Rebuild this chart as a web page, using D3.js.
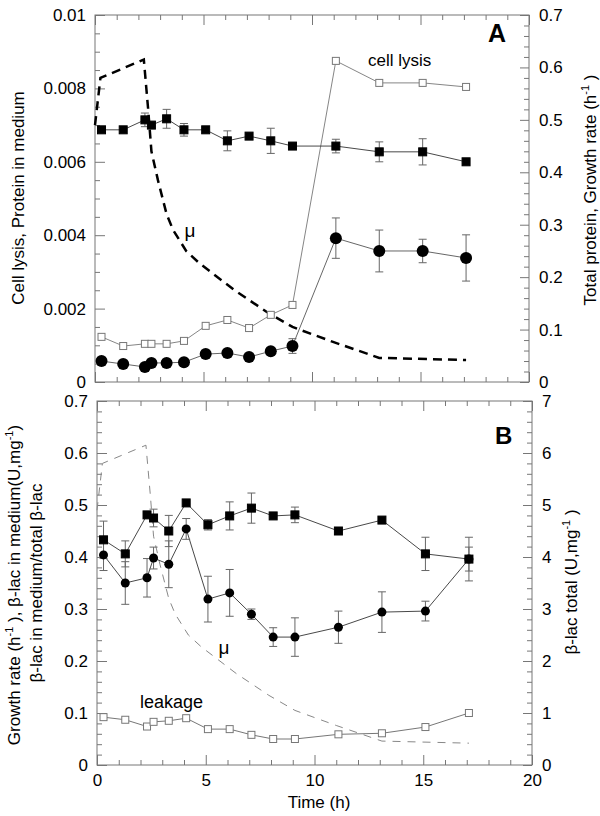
<!DOCTYPE html>
<html><head><meta charset="utf-8">
<script src="https://cdn.jsdelivr.net/npm/d3@7"></script>
<style>
body{margin:0;background:#fff}
text{font-family:"Liberation Sans",Arial,Helvetica,sans-serif;fill:#000}
</style>
</head><body>
<svg id="c" width="600" height="816"></svg>
<script>
// ---------- DATA ----------
const time = [0.3,1.3,2.3,2.6,3.3,4.1,5.1,6.1,7.1,8.1,9.1,11.1,13.1,15.1,17.1];

// Panel A
const totalProtein    = [0.481,0.481,0.500,0.490,0.502,0.481,0.481,0.460,0.469,0.460,0.450,0.450,0.439,0.439,0.420];
const totalProteinErr = [0,0,0.013,0,0.018,0.012,0,0.019,0,0.024,0,0.013,0.019,0.025,0];
const cellLysis       = [0.00123,0.00098,0.00104,0.00104,0.00104,0.00112,0.00153,0.00169,0.00147,0.00183,0.0021,0.00875,0.00815,0.00815,0.00804];
const proteinMedium   = [0.00057,0.00049,0.00041,0.00052,0.00052,0.00054,0.00076,0.00079,0.00068,0.00084,0.00098,0.00392,0.00357,0.00357,0.00338];
const proteinMediumErr= [0,0,0,0,0,0,0,0,0,0,0.0002,0.00055,0.00057,0.00032,0.00063];

// growth rate mu (both panels)
const muTime = [0,0.25,2.25,2.45,2.6,2.9,3.3,3.6,4.2,4.8,6.4,7.9,9.1,11.0,13.1,17.1];
const muVal  = [0.49,0.58,0.615,0.52,0.44,0.385,0.32,0.29,0.25,0.227,0.176,0.134,0.105,0.076,0.046,0.042];

// Panel B
const betaTotal     = [4.33,4.06,4.81,4.75,4.5,5.04,4.62,4.79,4.94,4.79,4.81,4.5,4.71,4.06,3.96];
const betaTotalErr  = [0.36,0.25,0,0.17,0.3,0,0.1,0.27,0.29,0,0.15,0,0,0.32,0.42];
const betaMedium    = [0.404,0.35,0.36,0.398,0.386,0.454,0.319,0.331,0.29,0.246,0.246,0.265,0.294,0.296,0.396];
const betaMediumErr = [0.03,0.041,0.037,0.021,0.045,0.02,0.044,0.045,0.01,0.018,0.037,0.031,0.039,0.019,0.023];
const leakage       = [0.092,0.087,0.074,0.083,0.085,0.09,0.069,0.069,0.058,0.05,0.05,0.059,0.061,0.073,0.1];

const xMajor = [0,5,10,15,20];
const xMinor = d3.range(0,21,1);
const yALTicks = [0,0.002,0.004,0.006,0.008,0.01];
const yARTicks = [0,0.1,0.2,0.3,0.4,0.5,0.6,0.7];
const yBLTicks = [0,0.1,0.2,0.3,0.4,0.5,0.6,0.7];
const yBRTicks = [0,1,2,3,4,5,6,7];

// ---------- DRAW ----------
const svg = d3.select("#c");
const FS = 17;
const axisCol = "#777";

const xA  = d3.scaleLinear().domain([0,20]).range([95,529]);
const yAL = d3.scaleLinear().domain([0,0.01]).range([382,15]);
const yAR = d3.scaleLinear().domain([0,0.7]).range([382,15]);
const xB  = d3.scaleLinear().domain([0,20]).range([97,532]);
const yBL = d3.scaleLinear().domain([0,0.7]).range([765,401]);
const yBR = d3.scaleLinear().domain([0,7]).range([765,401]);

const fmtNum = d => d === 0 ? "0" : String(+d.toFixed(4));

function styleAxis(g){
  g.select(".domain").remove();
  g.selectAll(".tick line").attr("stroke", axisCol).attr("stroke-width", 1);
  g.selectAll(".tick text").attr("font-size", FS).attr("font-family", '"Liberation Sans",Arial,sans-serif').attr("fill","#000");
}

function panelAxes(x, yL, yR, lTicks, rTicks, lMinorStep, rMinorStep, showX){
  const [x0,x1] = x.range(), [y0,y1] = yL.range();
  // minor ticks
  const minorX = xMinor.filter(v => !xMajor.includes(v));
  svg.append("g").attr("transform",`translate(0,${y0})`)
    .call(d3.axisBottom(x).tickValues(minorX).tickSize(-5).tickFormat("")).call(styleAxis);
  svg.append("g").attr("transform",`translate(0,${y1})`)
    .call(d3.axisTop(x).tickValues(minorX).tickSize(-5).tickFormat("")).call(styleAxis);
  svg.append("g").attr("transform",`translate(0,${y0})`)
    .call(d3.axisBottom(x).tickValues(xMajor).tickSize(-10).tickPadding(9)
      .tickFormat(showX ? d3.format("d") : "")).call(styleAxis);
  svg.append("g").attr("transform",`translate(0,${y1})`)
    .call(d3.axisTop(x).tickValues(xMajor).tickSize(-10).tickFormat("")).call(styleAxis);

  const lMax = yL.domain()[1], rMax = yR.domain()[1];
  const lMin = d3.range(0, lMax + lMinorStep/2, lMinorStep).map(v=>+v.toFixed(6)).filter(v => !lTicks.some(t=>Math.abs(t-v)<1e-9));
  const rMin = d3.range(0, rMax + rMinorStep/2, rMinorStep).map(v=>+v.toFixed(6)).filter(v => !rTicks.some(t=>Math.abs(t-v)<1e-9));
  svg.append("g").attr("transform",`translate(${x0},0)`)
    .call(d3.axisLeft(yL).tickValues(lMin).tickSize(-5).tickFormat("")).call(styleAxis);
  svg.append("g").attr("transform",`translate(${x0},0)`)
    .call(d3.axisLeft(yL).tickValues(lTicks).tickSize(-10).tickPadding(9).tickFormat(fmtNum)).call(styleAxis);
  svg.append("g").attr("transform",`translate(${x1},0)`)
    .call(d3.axisRight(yR).tickValues(rMin).tickSize(-5).tickFormat("")).call(styleAxis);
  svg.append("g").attr("transform",`translate(${x1},0)`)
    .call(d3.axisRight(yR).tickValues(rTicks).tickSize(-9).tickPadding(10).tickFormat(fmtNum)).call(styleAxis);

  svg.append("rect").attr("x",x0).attr("y",y1).attr("width",x1-x0).attr("height",y0-y1)
    .attr("fill","none").attr("stroke",axisCol).attr("stroke-width",1);
}

panelAxes(xA, yAL, yAR, yALTicks, yARTicks, 0.0005, 0.02, false);
panelAxes(xB, yBL, yBR, yBLTicks, yBRTicks, 0.02, 0.2, true);

function seriesLine(x, y, xs, ys, color, width, dash){
  const pts = xs.map((t,i)=>[t, ys[i]]);
  const p = svg.append("path").datum(pts)
    .attr("d", d3.line().x(d=>x(d[0])).y(d=>y(d[1])))
    .attr("fill","none").attr("stroke",color).attr("stroke-width",width);
  if (dash) p.attr("stroke-dasharray", dash);
}
function errBars(x, y, xs, ys, es, color){
  const g = svg.append("g").attr("stroke",color).attr("stroke-width",1);
  xs.forEach((t,i)=>{
    if (!es[i]) return;
    const cx = x(t), yt = y(ys[i]+es[i]), yb = y(ys[i]-es[i]);
    g.append("line").attr("x1",cx).attr("x2",cx).attr("y1",yt).attr("y2",yb);
    g.append("line").attr("x1",cx-4).attr("x2",cx+4).attr("y1",yt).attr("y2",yt);
    g.append("line").attr("x1",cx-4).attr("x2",cx+4).attr("y1",yb).attr("y2",yb);
  });
}
function squares(x, y, xs, ys, s, fill, stroke){
  svg.append("g").selectAll("rect").data(xs.map((t,i)=>[t,ys[i]])).join("rect")
    .attr("x",d=>x(d[0])-s/2).attr("y",d=>y(d[1])-s/2).attr("width",s).attr("height",s)
    .attr("fill",fill).attr("stroke",stroke).attr("stroke-width",1);
}
function circles(x, y, xs, ys, r){
  svg.append("g").selectAll("circle").data(xs.map((t,i)=>[t,ys[i]])).join("circle")
    .attr("cx",d=>x(d[0])).attr("cy",d=>y(d[1])).attr("r",r).attr("fill","#000");
}

// Panel A marks
seriesLine(xA, yAR, muTime, muVal, "#000", 2.5, "9,6");
seriesLine(xA, yAL, time, cellLysis, "#777", 0.9);
seriesLine(xA, yAR, time, totalProtein, "#333", 0.9);
seriesLine(xA, yAL, time, proteinMedium, "#555", 0.9);
errBars(xA, yAR, time, totalProtein, totalProteinErr, "#666");
errBars(xA, yAL, time, proteinMedium, proteinMediumErr, "#666");
squares(xA, yAL, time, cellLysis, 7, "#fff", "#777");
squares(xA, yAR, time, totalProtein, 8, "#000", "#000");
circles(xA, yAL, time, proteinMedium, 6);

// Panel B marks
seriesLine(xB, yBL, muTime, muVal, "#888", 1, "8,7");
seriesLine(xB, yBL, time, leakage, "#666", 0.9);
seriesLine(xB, yBR, time, betaTotal, "#333", 0.9);
seriesLine(xB, yBL, time, betaMedium, "#333", 0.9);
errBars(xB, yBR, time, betaTotal, betaTotalErr, "#666");
errBars(xB, yBL, time, betaMedium, betaMediumErr, "#666");
squares(xB, yBL, time, leakage, 7, "#fff", "#777");
squares(xB, yBR, time, betaTotal, 8, "#000", "#000");
circles(xB, yBL, time, betaMedium, 4.5);

// ---------- TEXT ----------
function t(x,y,str,opt={}){
  return svg.append("text").attr("x",x).attr("y",y).attr("font-size",opt.fs||FS)
    .attr("text-anchor",opt.anchor||"start").attr("font-weight",opt.bold?"bold":null).text(str);
}
t(368,66,"cell lysis");
t(190,237,"μ",{fs:19,anchor:"middle"});
t(488,42,"A",{fs:25,bold:true});
t(495,444,"B",{fs:24,bold:true});
t(140,708,"leakage",{fs:18});
t(224,654,"μ",{fs:19,anchor:"middle"});
t(319,808,"Time (h)",{anchor:"middle"});

function rotLabel(x, y, parts){
  const tx = svg.append("text").attr("transform",`translate(${x},${y}) rotate(-90)`)
    .attr("text-anchor","middle").attr("font-size",FS);
  parts.forEach(p=>{
    if (p.sup) tx.append("tspan").attr("font-size",11).attr("dy",-7).text(p.sup);
    else if (p.after) tx.append("tspan").attr("dy",7).text(p.after);
    else tx.append("tspan").text(p.t);
  });
}
rotLabel(24,198,[{t:"Cell lysis, Protein in medium"}]);
rotLabel(596,190,[{t:"Total protein, Growth rate (h"},{sup:"-1"},{after:" )"}]);
rotLabel(20,585,[{t:"Growth rate (h"},{sup:"-1"},{after:" ), β-lac in medium(U,mg"},{sup:"-1"},{after:")"}]);
rotLabel(42,583,[{t:"β-lac in medium/total β-lac"}]);
rotLabel(577,582,[{t:"β-lac total (U,mg"},{sup:"-1"},{after:" )"}]);
</script>
</body></html>
